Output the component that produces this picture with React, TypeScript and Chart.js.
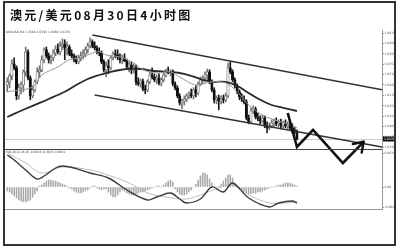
import React, { useEffect, useRef } from "react";
import { Chart, registerables } from "chart.js";

Chart.register(...registerables);

// AUD/USD 4-hour candles (bar index = position on the time axis)
const opens = [
  1.0505, 1.0513, 1.0528, 1.0558, 1.0548, 1.0478, 1.0498, 1.0505, 1.0538, 1.0588,
  1.0523, 1.0478, 1.0493, 1.0513, 1.0538, 1.0543, 1.0568, 1.0593, 1.0578, 1.0568,
  1.0573, 1.0585, 1.0595, 1.0588, 1.0603, 1.0608, 1.0598, 1.06, 1.0583, 1.0578,
  1.0568, 1.0563, 1.0573, 1.0578, 1.0583, 1.0593, 1.0603, 1.0613, 1.0603, 1.0598,
  1.0588, 1.0585, 1.0563, 1.0543, 1.0553, 1.0548, 1.0573, 1.0583, 1.058, 1.0575,
  1.0568, 1.0573, 1.0565, 1.055, 1.0555, 1.0543, 1.055, 1.0513, 1.0508, 1.0515,
  1.0495, 1.0493, 1.0513, 1.053, 1.0525, 1.0518, 1.0523, 1.051, 1.0518, 1.053,
  1.054, 1.0535, 1.0538, 1.0508, 1.0498, 1.0478, 1.046, 1.0465, 1.047, 1.0478,
  1.0483, 1.0478, 1.0493, 1.0485, 1.0508, 1.0518, 1.0523, 1.053, 1.0538, 1.0513,
  1.0493, 1.0468, 1.0473, 1.0465, 1.047, 1.0468, 1.0478, 1.0548, 1.0538, 1.0518,
  1.0503, 1.0488, 1.0475, 1.047, 1.0463, 1.0423, 1.0413, 1.044, 1.0445, 1.0425,
  1.042, 1.0415, 1.0423, 1.0403, 1.0398, 1.0403, 1.041, 1.0415, 1.0408, 1.041,
  1.0403, 1.041, 1.0403, 1.0405, 1.0398, 1.0393, 1.0388,
];
const highs = [
  1.0523, 1.0533, 1.0568, 1.0573, 1.0553, 1.0508, 1.0513, 1.0543, 1.06, 1.0593,
  1.0528, 1.0503, 1.0518, 1.0548, 1.0553, 1.0578, 1.0598, 1.06, 1.0585, 1.058,
  1.0593, 1.0603, 1.0608, 1.0613, 1.062, 1.0618, 1.0613, 1.0605, 1.0593, 1.0583,
  1.0578, 1.058, 1.0588, 1.0593, 1.06, 1.061, 1.0623, 1.0618, 1.0613, 1.0603,
  1.0598, 1.059, 1.0568, 1.0563, 1.0568, 1.0578, 1.0588, 1.0593, 1.0593, 1.0583,
  1.058, 1.0583, 1.057, 1.0563, 1.0563, 1.0558, 1.0555, 1.0523, 1.052, 1.052,
  1.0505, 1.0518, 1.0538, 1.0548, 1.0533, 1.053, 1.0533, 1.0523, 1.0535, 1.0545,
  1.055, 1.0543, 1.0543, 1.0513, 1.0503, 1.0483, 1.047, 1.0478, 1.0483, 1.0488,
  1.0495, 1.0498, 1.0503, 1.0513, 1.0525, 1.0528, 1.0538, 1.0545, 1.0543, 1.0518,
  1.0498, 1.0478, 1.048, 1.0478, 1.048, 1.0485, 1.056, 1.0563, 1.0543, 1.0523,
  1.0508, 1.0493, 1.0483, 1.0478, 1.0468, 1.043, 1.0448, 1.0453, 1.045, 1.0435,
  1.0428, 1.043, 1.0428, 1.0413, 1.041, 1.0418, 1.042, 1.0423, 1.0418, 1.042,
  1.0415, 1.0418, 1.0413, 1.0415, 1.0408, 1.04, 1.0393,
];
const lows = [
  1.0488, 1.0498, 1.0518, 1.0543, 1.0468, 1.047, 1.0483, 1.0488, 1.0528, 1.0518,
  1.0468, 1.0473, 1.0488, 1.0508, 1.0523, 1.0538, 1.056, 1.0573, 1.056, 1.0558,
  1.0565, 1.0578, 1.0583, 1.058, 1.0593, 1.0568, 1.058, 1.0578, 1.0573, 1.0563,
  1.0558, 1.0558, 1.0565, 1.057, 1.0575, 1.0585, 1.0598, 1.0598, 1.0593, 1.0583,
  1.0578, 1.0558, 1.0538, 1.0525, 1.0533, 1.0543, 1.0568, 1.0573, 1.0568, 1.056,
  1.0558, 1.0563, 1.0545, 1.0538, 1.0533, 1.0535, 1.0505, 1.0503, 1.05, 1.049,
  1.0483, 1.0488, 1.0508, 1.052, 1.0513, 1.0508, 1.0505, 1.0503, 1.0513, 1.0525,
  1.0533, 1.0528, 1.0503, 1.0493, 1.0473, 1.0455, 1.0445, 1.0455, 1.0463, 1.047,
  1.0473, 1.047, 1.0475, 1.048, 1.0503, 1.0508, 1.0513, 1.0518, 1.0508, 1.0488,
  1.046, 1.0458, 1.0443, 1.0458, 1.046, 1.0463, 1.0473, 1.0533, 1.0513, 1.0498,
  1.0483, 1.0468, 1.0463, 1.0458, 1.0418, 1.0408, 1.0408, 1.0433, 1.042, 1.0415,
  1.0408, 1.041, 1.0398, 1.0385, 1.0393, 1.0398, 1.04, 1.0403, 1.04, 1.0395,
  1.0398, 1.0398, 1.0395, 1.0393, 1.0385, 1.0383, 1.0368,
];
const closes = [
  1.0513, 1.0528, 1.0558, 1.0548, 1.0478, 1.0498, 1.0505, 1.0538, 1.0588, 1.0523,
  1.0478, 1.0493, 1.0513, 1.0538, 1.0543, 1.0568, 1.0593, 1.0578, 1.0568, 1.0573,
  1.0585, 1.0595, 1.0588, 1.0603, 1.0608, 1.0598, 1.06, 1.0583, 1.0578, 1.0568,
  1.0563, 1.0573, 1.0578, 1.0583, 1.0593, 1.0603, 1.0613, 1.0603, 1.0598, 1.0588,
  1.0585, 1.0563, 1.0543, 1.0553, 1.0548, 1.0573, 1.0583, 1.058, 1.0575, 1.0568,
  1.0573, 1.0565, 1.055, 1.0555, 1.0543, 1.055, 1.0513, 1.0508, 1.0515, 1.0495,
  1.0493, 1.0513, 1.053, 1.0525, 1.0518, 1.0523, 1.051, 1.0518, 1.053, 1.054,
  1.0535, 1.0538, 1.0508, 1.0498, 1.0478, 1.046, 1.0465, 1.047, 1.0478, 1.0483,
  1.0478, 1.0493, 1.0485, 1.0508, 1.0518, 1.0523, 1.053, 1.0538, 1.0513, 1.0493,
  1.0468, 1.0473, 1.0465, 1.047, 1.0468, 1.0478, 1.0548, 1.0538, 1.0518, 1.0503,
  1.0488, 1.0475, 1.047, 1.0463, 1.0423, 1.0413, 1.044, 1.0445, 1.0425, 1.042,
  1.0415, 1.0423, 1.0403, 1.0398, 1.0403, 1.041, 1.0415, 1.0408, 1.041, 1.0403,
  1.041, 1.0403, 1.0405, 1.0398, 1.0393, 1.0388, 1.037,
];

// Moving averages, sampled at bar indices
const maFastBars = [0, 11, 15, 22, 27, 32, 37, 40, 43, 49, 55, 59, 65, 71, 75, 82, 89, 95, 100, 105, 111, 116, 123, 126];
const maFastValues = [
  1.0488, 1.05, 1.053, 1.055, 1.0568, 1.0573, 1.0585, 1.0588, 1.058, 1.0575, 1.056, 1.0543,
  1.0535, 1.0538, 1.0525, 1.0505, 1.0513, 1.051, 1.0488, 1.0455, 1.043, 1.0418, 1.0405, 1.0398,
];
const maSlowBars = [0, 5, 11, 18, 25, 30, 35, 40, 45, 52, 58, 64, 70, 75, 80, 85, 90, 95, 100, 105, 110, 115, 120, 126];
const maSlowValues = [
  1.0425, 1.0438, 1.0453, 1.047, 1.0488, 1.0505, 1.052, 1.053, 1.0538, 1.0545, 1.0545, 1.054,
  1.0538, 1.0535, 1.0528, 1.0518, 1.0513, 1.0513, 1.0503, 1.0485, 1.0468, 1.0455, 1.0448, 1.044,
];

// Down-channel and projected path
const upperChannelBars = [37, 163];
const upperChannelValues = [1.063, 1.0493];
const lowerChannelBars = [38, 163];
const lowerChannelValues = [1.048, 1.035];
const pathBars = [122, 126, 133, 146, 155];
const pathValues = [1.0435, 1.035, 1.0393, 1.031, 1.0363];

// MACD panel
const macdHist = [
  -0.0004, -0.0005, -0.0007, -0.0009, -0.0011, -0.0013, -0.0014, -0.0015, -0.0015, -0.0014,
  -0.0013, -0.001, -0.0007, -0.0004, 0.0001, 0.0002, 0.0004, 0.0006, 0.0007, 0.0007,
  0.0006, 0.0006, 0.0005, 0.0004, 0.0003, 0.0002, 0.0001, -0.0001, -0.0002, -0.0004,
  -0.0005, -0.0006, -0.0006, -0.0005, -0.0004, -0.0003, -0.0001, 0.0001, 0.0001, -0.0001,
  -0.0002, -0.0003, -0.0002, -0.0002, -0.0005, -0.0008, -0.001, -0.001, -0.0008, -0.0005,
  -0.0003, -0.0004, -0.0006, -0.0007, -0.0008, -0.0008, -0.0007, -0.0006, -0.0005, -0.0005,
  -0.0004, -0.0003, -0.0002, -0.0001, 0, 0.0001, 0.0001, 0, 0.0002, 0.0004,
  0.0006, 0.0007, 0.0005, -0.0002, -0.0005, -0.0007, -0.0008, -0.0008, -0.0007, -0.0005,
  -0.0003, 0, 0.0003, 0.0007, 0.0011, 0.0014, 0.0014, 0.0012, 0.0008, 0.0004,
  0.0001, 0, 0.0001, 0.0003, 0.0006, 0.0009, 0.0012, 0.0012, 0.0009, 0.0004,
  0, -0.0002, -0.0004, -0.0005, -0.0006, -0.0007, -0.0007, -0.0006, -0.0006, -0.0005,
  -0.0005, -0.0004, -0.0003, -0.0002, -0.0001, 0, 0, 0.0001, 0.0002, 0.0002,
  0.0003, 0.0004, 0.0004, 0.0004, 0.0003, 0.0002, 0.0001,
];
const macdBars = [0, 3, 8, 13, 16, 21, 24, 29, 36, 44, 52, 61, 65, 71, 75, 78, 84, 89, 94, 98, 105, 114, 118, 124, 126];
const macdValues = [
  0.0032, 0.0027, 0.0017, 0.0008, 0.0011, 0.0019, 0.0021, 0.0019, 0.0014, 0.0009, -0.0003, -0.0013,
  -0.001, -0.0006, -0.0012, -0.0016, -0.0012, 0, -0.0005, 0.0004, -0.0011, -0.002, -0.0016, -0.0014, -0.0016,
];
const signalBars = [0, 8, 15, 24, 36, 45, 53, 61, 69, 78, 84, 92, 98, 105, 114, 121, 126];
const signalValues = [
  0.0034, 0.0024, 0.0014, 0.002, 0.0017, 0.0011, 0.0004, -0.0006, -0.001, -0.0012, -0.0008, -0.0001,
  0.0002, -0.0008, -0.0016, -0.0016, -0.0015,
];

// Axis ticks
const priceTicks = [1.0635, 1.0609, 1.0583, 1.0557, 1.0531, 1.0505, 1.0479, 1.0453, 1.0427, 1.0401, 1.0375, 1.0349];
const macdTicks = [0.0034, 0, -0.002];
const xTickBars = [0, 5, 13, 21, 29, 37, 45, 53, 61, 69, 77, 85, 93, 101, 109, 117, 125];
const xTickLabels = [
  "31 Jul 2012", "1 Aug 04:00", "2 Aug 12:00", "3 Aug 20:00", "7 Aug 04:00", "8 Aug 12:00",
  "9 Aug 20:00", "13 Aug 04:00", "14 Aug 12:00", "15 Aug 20:00", "17 Aug 04:00", "20 Aug 12:00",
  "21 Aug 20:00", "23 Aug 04:00", "24 Aug 12:00", "27 Aug 20:00", "29 Aug 04:00",
];

const TINY = "DejaVu Sans";
const pts = (xs: number[], ys: number[]) => xs.map((x, i) => ({ x, y: ys[i] }));

const overlay = {
  id: "overlay",
  beforeDatasetsDraw(chart: any) {
    const { ctx, chartArea: a, scales } = chart;
    const last = closes[closes.length - 1];
    const py = Math.round(scales.y.getPixelForValue(last)) + 0.5;
    ctx.save();
    ctx.strokeStyle = "#d0d0d0";
    ctx.lineWidth = 1;
    ctx.beginPath();
    ctx.moveTo(a.left, py);
    ctx.lineTo(a.right, py);
    ctx.stroke();
    ctx.restore();
  },
  afterDatasetsDraw(chart: any) {
    const { ctx, chartArea: a, scales } = chart;
    ctx.save();
    // separator between price and MACD panes
    const sy = Math.round(scales.y.bottom) + 0.5;
    ctx.strokeStyle = "#444";
    ctx.lineWidth = 1.2;
    ctx.beginPath();
    ctx.moveTo(a.left, sy);
    ctx.lineTo(a.right, sy);
    ctx.stroke();
    // arrow head at the end of the projected path
    const n = pathBars.length;
    const x1 = scales.x.getPixelForValue(pathBars[n - 2]);
    const y1 = scales.y.getPixelForValue(pathValues[n - 2]);
    const x2 = scales.x.getPixelForValue(pathBars[n - 1]);
    const y2 = scales.y.getPixelForValue(pathValues[n - 1]);
    const ang = Math.atan2(y2 - y1, x2 - x1) + Math.PI;
    ctx.strokeStyle = "#111";
    ctx.lineWidth = 2.4;
    ctx.lineCap = "round";
    for (const d of [-0.6, 0.6]) {
      ctx.beginPath();
      ctx.moveTo(x2, y2);
      ctx.lineTo(x2 + 11 * Math.cos(ang + d), y2 + 11 * Math.sin(ang + d));
      ctx.stroke();
    }
    ctx.restore();
  },
  afterDraw(chart: any) {
    const { ctx, chartArea: a, scales } = chart;
    const n = closes.length - 1;
    ctx.save();
    // current price marker on the right axis
    const py = scales.y.getPixelForValue(closes[n]);
    ctx.fillStyle = "#111";
    ctx.fillRect(a.right + 1, py - 2.5, 12, 5);
    ctx.fillStyle = "#fff";
    ctx.font = `3px "${TINY}"`;
    ctx.textBaseline = "middle";
    ctx.fillText(closes[n].toFixed(4), a.right + 2, py);
    // pane headers
    ctx.fillStyle = "#444";
    ctx.textBaseline = "top";
    ctx.fillText(
      `AUDUSD,H4 ${opens[n].toFixed(4)} ${highs[n].toFixed(4)} ${lows[n].toFixed(4)} ${closes[n].toFixed(4)}`,
      a.left + 1,
      a.top + 1
    );
    ctx.fillText(
      `MACD(12,26,9) ${macdValues[macdValues.length - 1].toFixed(4)} ${signalValues[signalValues.length - 1].toFixed(4)} ${macdHist[n].toFixed(4)}`,
      a.left + 1,
      scales.y2.top + 2
    );
    ctx.restore();
  },
};

export default function App() {
  const canvasRef = useRef<HTMLCanvasElement>(null);

  useEffect(() => {
    const idx = closes.map((_, i) => i);
    const up = (i: number) => closes[i] >= opens[i];
    const chart = new Chart(canvasRef.current as HTMLCanvasElement, {
      type: "bar",
      data: {
        datasets: [
          {
            type: "line",
            data: pts(pathBars, pathValues),
            borderColor: "#111",
            borderWidth: 2.6,
            pointRadius: 0,
            tension: 0,
            clip: false,
            yAxisID: "y",
          } as any,
          {
            type: "line",
            data: pts(upperChannelBars, upperChannelValues),
            borderColor: "#333",
            borderWidth: 1.4,
            pointRadius: 0,
            clip: false,
            yAxisID: "y",
          },
          {
            type: "line",
            data: pts(lowerChannelBars, lowerChannelValues),
            borderColor: "#333",
            borderWidth: 1.4,
            pointRadius: 0,
            clip: false,
            yAxisID: "y",
          },
          {
            type: "line",
            data: pts(maFastBars, maFastValues),
            borderColor: "#999",
            borderWidth: 1,
            pointRadius: 0,
            tension: 0.35,
            yAxisID: "y",
          },
          {
            type: "line",
            data: pts(maSlowBars, maSlowValues),
            borderColor: "#2a2a2a",
            borderWidth: 1.8,
            pointRadius: 0,
            tension: 0.35,
            yAxisID: "y",
          },
          {
            type: "bar",
            data: idx.map((i) => ({ x: i, y: [opens[i], closes[i]] })) as any,
            backgroundColor: (c: any) => (up(c.dataIndex) ? "#f4f4f4" : "#111111"),
            borderColor: (c: any) => (up(c.dataIndex) ? "#5a5a5a" : "#111111"),
            borderWidth: 0.7,
            borderSkipped: false,
            barThickness: 2.4,
            minBarLength: 1,
            grouped: false,
            yAxisID: "y",
          },
          {
            type: "bar",
            data: idx.map((i) => ({ x: i, y: [lows[i], highs[i]] })) as any,
            backgroundColor: (c: any) => (up(c.dataIndex) ? "#777777" : "#1a1a1a"),
            barThickness: 1,
            grouped: false,
            yAxisID: "y",
          },
          {
            type: "line",
            data: pts(macdBars, macdValues),
            borderColor: "#3a3a3a",
            borderWidth: 1.4,
            pointRadius: 0,
            tension: 0.35,
            yAxisID: "y2",
          },
          {
            type: "line",
            data: pts(signalBars, signalValues),
            borderColor: "#bdbdbd",
            borderWidth: 1,
            pointRadius: 0,
            tension: 0.35,
            yAxisID: "y2",
          },
          {
            type: "bar",
            data: idx.map((i) => ({ x: i, y: macdHist[i] })),
            backgroundColor: "#a8a8a8",
            barThickness: 0.9,
            grouped: false,
            yAxisID: "y2",
          },
        ],
      },
      options: {
        animation: false,
        responsive: false,
        devicePixelRatio: 1,
        events: [],
        layout: { padding: { left: 5, right: 5, top: 30, bottom: 33 } },
        plugins: { legend: { display: false }, tooltip: { enabled: false } },
        scales: {
          x: {
            type: "linear",
            min: -1,
            max: 163,
            offset: false,
            grid: { display: false },
            border: { display: true, color: "#9a9a9a", width: 1 },
            afterBuildTicks: (s: any) => {
              s.ticks = xTickBars.map((value) => ({ value }));
            },
            afterFit: (s: any) => {
              s.height = 8;
            },
            ticks: {
              autoSkip: false,
              maxRotation: 0,
              minRotation: 0,
              align: "start",
              padding: 1,
              color: "#555",
              font: { size: 3, family: TINY },
              callback: (_v: any, i: number) => xTickLabels[i],
            },
          },
          y: {
            type: "linear",
            position: "right",
            stack: "panes",
            stackWeight: 119,
            min: 1.0345,
            max: 1.06425,
            grid: { display: true, drawOnChartArea: false, drawTicks: true, tickLength: 2, color: "#999" },
            border: { display: true, color: "#9a9a9a" },
            afterBuildTicks: (s: any) => {
              s.ticks = priceTicks.map((value) => ({ value }));
            },
            afterFit: (s: any) => {
              s.width = 13;
            },
            ticks: {
              autoSkip: false,
              padding: 0.5,
              color: "#555",
              font: { size: 3, family: TINY },
              callback: (v: any) => Number(v).toFixed(4),
            },
          },
          y2: {
            type: "linear",
            position: "right",
            stack: "panes",
            stackWeight: 60,
            min: -0.0022,
            max: 0.0038,
            grid: { display: true, drawOnChartArea: false, drawTicks: true, tickLength: 2, color: "#999" },
            border: { display: true, color: "#9a9a9a" },
            afterBuildTicks: (s: any) => {
              s.ticks = macdTicks.map((value) => ({ value }));
            },
            afterFit: (s: any) => {
              s.width = 13;
            },
            ticks: {
              autoSkip: false,
              padding: 0.5,
              color: "#555",
              font: { size: 3, family: TINY },
              callback: (v: any) => (Number(v) === 0 ? "0.00" : Number(v).toFixed(4)),
            },
          },
        } as any,
      },
      plugins: [overlay],
    });
    return () => chart.destroy();
  }, []);

  return (
    <div style={{ position: "fixed", left: 0, top: 0, width: 400, height: 250, background: "#fff", overflow: "hidden" }}>
      <canvas
        ref={canvasRef}
        width={400}
        height={250}
        style={{ position: "absolute", left: 0, top: 0, width: 400, height: 250 }}
      />
      <div
        style={{
          position: "absolute",
          left: 3,
          top: 1,
          width: 393,
          height: 245,
          border: "2px solid #333",
          boxSizing: "border-box",
          pointerEvents: "none",
        }}
      />
      <div
        style={{
          position: "absolute",
          left: 10,
          top: 9,
          fontFamily: '"Noto Sans CJK SC", sans-serif',
          fontSize: 12,
          lineHeight: "12px",
          fontWeight: 700,
          letterSpacing: 2.3,
          color: "#111",
          whiteSpace: "nowrap",
        }}
      >
        澳元/美元08月30日4小时图
      </div>
    </div>
  );
}
